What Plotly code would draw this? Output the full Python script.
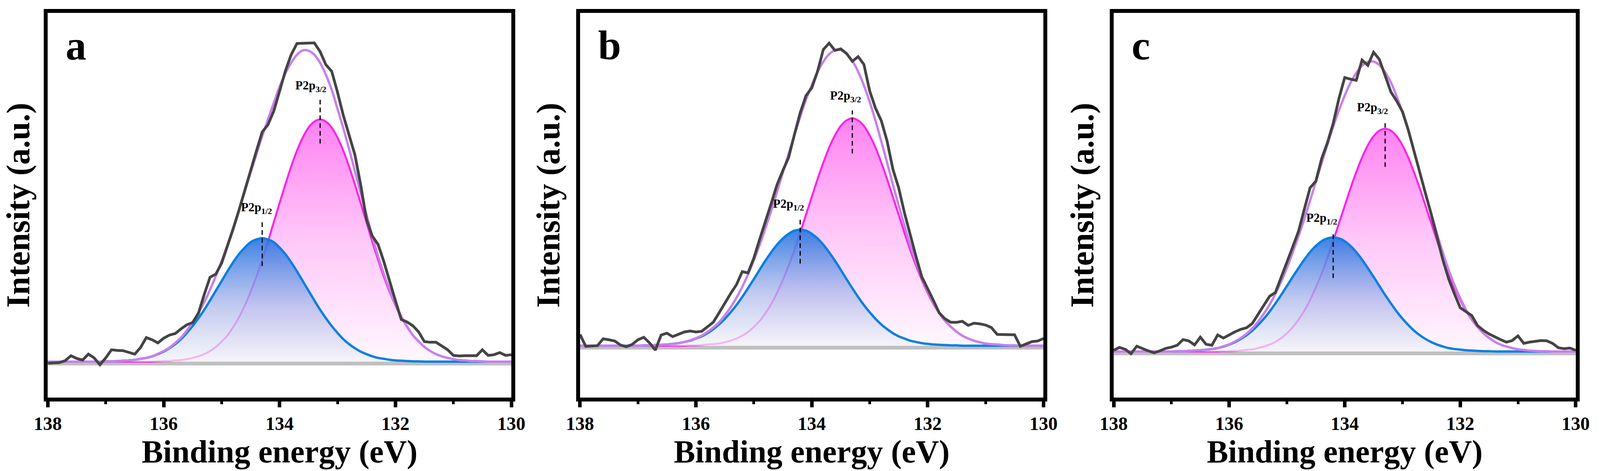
import plotly.graph_objects as go

# ---------------- data (binding energy grid, eV) ----------------
X = [130.0, 130.1, 130.2, 130.3, 130.4, 130.5, 130.6, 130.7, 130.8, 130.9,
     131.0, 131.1, 131.2, 131.3, 131.4, 131.5, 131.6, 131.7, 131.8, 131.9,
     132.0, 132.1, 132.2, 132.3, 132.4, 132.5, 132.6, 132.7, 132.8, 132.9,
     133.0, 133.1, 133.2, 133.3, 133.4, 133.5, 133.6, 133.7, 133.8, 133.9,
     134.0, 134.1, 134.2, 134.3, 134.4, 134.5, 134.6, 134.7, 134.8, 134.9,
     135.0, 135.1, 135.2, 135.3, 135.4, 135.5, 135.6, 135.7, 135.8, 135.9,
     136.0, 136.1, 136.2, 136.3, 136.4, 136.5, 136.6, 136.7, 136.8, 136.9,
     137.0, 137.1, 137.2, 137.3, 137.4, 137.5, 137.6, 137.7, 137.8, 137.9,
     138.0]

# ---- panel a ----
A_RAW = [2.2, 2.0, 2.9, 2.2, 2.0, 3.8, 1.9, 2.0, 1.9, 1.8,
         2.0, 3.8, 5.0, 6.2, 6.2, 6.4, 9.5, 11.5, 12.7, 13.5,
         19.5, 26.0, 32.0, 37.5, 40.2, 45.5, 56.6, 66.2, 72.5, 78.8,
         86.2, 92.9, 95.0, 99.2, 102.0, 102.0, 102.0, 101.8, 98.2, 93.0,
         86.5, 80.2, 75.8, 73.5, 67.4, 61.0, 54.5, 48.5, 42.5, 37.2,
         31.5, 28.0, 27.0, 21.5, 15.5, 12.5, 11.8, 10.5, 9.0, 8.5,
         7.5, 6.0, 7.0, 7.7, 4.5, 2.4, 3.0, 3.5, 3.6, 3.8,
         1.2, -1.0, 1.2, 2.4, 0.5, 1.0, 1.9, 0.3, -0.3, -0.4,
         -0.5]
A_P32 = [0, 0, 0, 0, 0, 0.1, 0.2, 0.2, 0.4, 0.5,
         0.8, 1.2, 1.7, 2.4, 3.4, 4.7, 6.4, 8.4, 11.1, 14.2,
         18.0, 22.3, 27.2, 32.6, 38.4, 44.6, 50.7, 56.7, 62.4, 67.5,
         71.7, 74.9, 76.8, 77.5, 76.8, 74.9, 71.7, 67.5, 62.4, 56.7,
         50.7, 44.6, 38.4, 32.6, 27.2, 22.3, 18.0, 14.2, 11.1, 8.4,
         6.4, 4.7, 3.4, 2.4, 1.7, 1.2, 0.8, 0.5, 0.4, 0.2,
         0.2, 0.1, 0, 0, 0, 0, 0, 0, 0, 0,
         0, 0, 0, 0, 0, 0, 0, 0, 0, 0,
         0]
A_P12 = [0, 0, 0, 0, 0, 0, 0, 0, 0, 0,
         0, 0, 0, 0, 0, 0, 0.1, 0.1, 0.2, 0.3,
         0.4, 0.6, 0.9, 1.2, 1.7, 2.4, 3.2, 4.3, 5.6, 7.2,
         9.2, 11.4, 13.9, 16.6, 19.6, 22.7, 25.8, 28.9, 31.8, 34.4,
         36.5, 38.2, 39.1, 39.5, 39.1, 38.2, 36.5, 34.4, 31.8, 28.9,
         25.8, 22.7, 19.6, 16.6, 13.9, 11.4, 9.2, 7.2, 5.6, 4.3,
         3.2, 2.4, 1.7, 1.2, 0.9, 0.6, 0.4, 0.3, 0.2, 0.1,
         0.1, 0, 0, 0, 0, 0, 0, 0, 0, 0,
         0]
A_ENV = [0, 0, 0, 0, 0, 0.1, 0.2, 0.2, 0.4, 0.5,
         0.8, 1.2, 1.7, 2.4, 3.4, 4.7, 6.5, 8.5, 11.3, 14.5,
         18.4, 22.9, 28.1, 33.8, 40.1, 47.0, 53.9, 61.0, 68.0, 74.7,
         80.9, 87.0, 91.8, 95.6, 98.2, 99.5, 99.6, 98.2, 95.6, 92.2,
         88.0, 82.8, 77.5, 72.1, 66.3, 60.5, 54.5, 48.6, 42.9, 37.3,
         32.2, 27.4, 23.0, 19.0, 15.6, 12.6, 10.0, 7.7, 6.0, 4.5,
         3.4, 2.5, 1.7, 1.2, 0.9, 0.6, 0.4, 0.3, 0.2, 0.1,
         0.1, 0, 0, 0, 0, 0, 0, 0, 0, 0,
         0]

# ---- panel b ----
B_RAW = [2.3, 1.5, 1.3, 0.5, -0.2, 3.5, 3.6, 3.6, 3.6, 5.8,
         6.6, 7.0, 7.2, 6.5, 7.8, 7.5, 7.5, 8.6, 10.5, 14.5,
         18.5, 22.0, 28.5, 35.5, 42.5, 50.5, 56.5, 65.5, 72.0, 76.0,
         81.5, 90.0, 92.5, 91.0, 93.5, 95.0, 94.5, 96.8, 94.8, 87.8,
         82.5, 80.0, 74.5, 67.5, 60.2, 56.0, 51.5, 45.5, 40.0, 34.0,
         28.0, 23.3, 23.7, 19.5, 16.7, 13.8, 10.5, 7.5, 6.0, 4.6,
         4.4, 4.7, 4.4, 3.6, 2.9, 4.0, 3.4, -1.4, 0.9, 2.7,
         1.9, 0.4, -0.3, 0.2, 1.5, 1.9, 2.2, 0.0, -0.2, -0.2,
         3.6]
B_P32 = [0, 0, 0, 0, 0, 0.1, 0.1, 0.2, 0.4, 0.5,
         0.7, 1.1, 1.6, 2.3, 3.2, 4.4, 6.0, 7.9, 10.4, 13.3,
         16.9, 21.0, 25.6, 30.6, 36.1, 41.9, 47.6, 53.3, 58.6, 63.4,
         67.3, 70.3, 72.1, 72.8, 72.1, 70.3, 67.3, 63.4, 58.6, 53.3,
         47.6, 41.9, 36.1, 30.6, 25.6, 21.0, 16.9, 13.3, 10.4, 7.9,
         6.0, 4.4, 3.2, 2.3, 1.6, 1.1, 0.7, 0.5, 0.4, 0.2,
         0.1, 0.1, 0, 0, 0, 0, 0, 0, 0, 0,
         0, 0, 0, 0, 0, 0, 0, 0, 0, 0,
         0]
B_P12 = [0, 0, 0, 0, 0, 0, 0, 0, 0, 0,
         0, 0, 0, 0, 0, 0.1, 0.1, 0.2, 0.3, 0.4,
         0.6, 0.8, 1.2, 1.6, 2.3, 3.0, 4.0, 5.3, 6.8, 8.6,
         10.7, 13.0, 15.6, 18.4, 21.3, 24.3, 27.2, 29.9, 32.3, 34.3,
         35.8, 36.8, 37.1, 36.8, 35.8, 34.3, 32.3, 29.9, 27.2, 24.3,
         21.3, 18.4, 15.6, 13.0, 10.7, 8.6, 6.8, 5.3, 4.0, 3.0,
         2.3, 1.6, 1.2, 0.8, 0.6, 0.4, 0.3, 0.2, 0.1, 0.1,
         0, 0, 0, 0, 0, 0, 0, 0, 0, 0,
         0]
B_ENV = [0, 0, 0, 0, 0, 0.1, 0.1, 0.2, 0.4, 0.5,
         0.7, 1.1, 1.6, 2.3, 3.2, 4.5, 6.1, 8.1, 10.7, 13.7,
         17.5, 21.8, 26.8, 32.2, 38.4, 44.9, 51.6, 58.6, 65.4, 72.0,
         78.0, 83.3, 87.7, 91.2, 93.4, 94.6, 94.5, 93.3, 90.9, 87.6,
         83.4, 78.7, 73.2, 67.4, 61.4, 55.3, 49.2, 43.2, 37.6, 32.2,
         27.3, 22.8, 18.8, 15.3, 12.3, 9.7, 7.5, 5.8, 4.4, 3.2,
         2.4, 1.7, 1.2, 0.8, 0.6, 0.4, 0.3, 0.2, 0.1, 0.1,
         0, 0, 0, 0, 0, 0, 0, 0, 0, 0,
         0]

# ---- panel c ----
C_RAW = [0.4, 1.1, 0.9, 1.2, 2.6, 3.4, 3.5, 3.3, 3.0, 2.6,
         5.0, 3.5, 3.0, 3.8, 4.7, 5.6, 6.8, 8.3, 11.5, 12.8,
         14.0, 18.5, 23.2, 29.3, 36.9, 43.8, 50.5, 57.5, 64.6, 71.0,
         76.8, 80.2, 83.1, 88.0, 93.5, 95.8, 91.6, 93.3, 86.8, 87.2,
         87.7, 81.0, 73.0, 66.8, 61.7, 54.5, 52.4, 45.5, 38.5, 33.5,
         28.5, 23.5, 18.9, 17.7, 14.7, 11.8, 9.0, 7.6, 7.1, 6.3,
         5.2, 4.3, 5.3, 2.0, 2.3, 4.6, 2.1, 3.4, 3.8, 2.0,
         1.4, 1.0, 0.2, -0.4, 0.2, 0.9, 1.7, -0.7, 0.7, 1.3,
         0.4]
C_P32 = [0, 0, 0, 0, 0, 0.1, 0.1, 0.2, 0.3, 0.5,
         0.7, 1.1, 1.6, 2.2, 3.1, 4.3, 5.8, 7.8, 10.2, 13.0,
         16.5, 20.5, 25.0, 30.0, 35.4, 41.0, 46.6, 52.2, 57.4, 62.1,
         66.0, 68.9, 70.7, 71.3, 70.7, 68.9, 66.0, 62.1, 57.4, 52.2,
         46.6, 41.0, 35.4, 30.0, 25.0, 20.5, 16.5, 13.0, 10.2, 7.8,
         5.8, 4.3, 3.1, 2.2, 1.6, 1.1, 0.7, 0.5, 0.3, 0.2,
         0.1, 0.1, 0, 0, 0, 0, 0, 0, 0, 0,
         0, 0, 0, 0, 0, 0, 0, 0, 0, 0,
         0]
C_P12 = [0, 0, 0, 0, 0, 0, 0, 0, 0, 0,
         0, 0, 0, 0, 0, 0.1, 0.1, 0.2, 0.3, 0.4,
         0.6, 0.8, 1.1, 1.6, 2.2, 3.0, 4.0, 5.2, 6.7, 8.5,
         10.5, 12.8, 15.4, 18.1, 21.0, 23.9, 26.7, 29.4, 31.8, 33.8,
         35.3, 36.2, 36.5, 36.2, 35.3, 33.8, 31.8, 29.4, 26.7, 23.9,
         21.0, 18.1, 15.4, 12.8, 10.5, 8.5, 6.7, 5.2, 4.0, 3.0,
         2.2, 1.6, 1.1, 0.8, 0.6, 0.4, 0.3, 0.2, 0.1, 0.1,
         0, 0, 0, 0, 0, 0, 0, 0, 0, 0,
         0]
C_ENV = [0, 0, 0, 0, 0, 0.1, 0.1, 0.2, 0.3, 0.5,
         0.7, 1.1, 1.6, 2.2, 3.1, 4.4, 5.9, 8.0, 10.5, 13.4,
         17.1, 21.3, 26.1, 31.6, 37.6, 44.0, 50.6, 57.4, 64.1, 70.6,
         76.5, 81.7, 86.1, 89.4, 91.7, 92.8, 92.7, 91.5, 89.2, 86.0,
         81.9, 77.2, 71.9, 66.2, 60.3, 54.3, 48.3, 42.4, 36.9, 31.7,
         26.8, 22.4, 18.5, 15.0, 12.1, 9.6, 7.4, 5.7, 4.3, 3.2,
         2.3, 1.7, 1.1, 0.8, 0.6, 0.4, 0.3, 0.2, 0.1, 0.1,
         0, 0, 0, 0, 0, 0, 0, 0, 0, 0,
         0]

# flat background line (drawn just under the fitted baseline)
BACKGROUND_X = [130.0, 138.0]
BACKGROUND_Y = [-0.6, -0.6]

PANEL_LETTERS = ["a", "b", "c"]
X_TICKS = [130, 132, 134, 136, 138]
X_TITLE = "Binding energy (eV)"
Y_TITLE = "Intensity (a.u.)"
PEAK_NAMES = ["P2p<sub>3/2</sub>", "P2p<sub>1/2</sub>"]
# peak marker energies (eV) and intensity extents of the dashed markers
PEAK_E = [[133.3, 134.3], [133.3, 134.2], [133.3, 134.2]]
MARK_TOP = [[84.1, 45.4], [75.3, 40.5], [73.4, 37.8]]
MARK_BOT = [[69.8, 30.6], [61.5, 26.3], [59.1, 23.5]]
LABEL_E = [[133.46, 134.40], [133.42, 134.40], [133.52, 134.40]]
LABEL_I = [[85.4, 46.4], [77.0, 42.4], [75.1, 39.7]]
Y_RANGES = [[-11.5, 111.6], [-16.6, 106.5], [-14.75, 108.4]]

PANELS = [
    (A_RAW, A_P32, A_P12, A_ENV),
    (B_RAW, B_P32, B_P12, B_ENV),
    (C_RAW, C_P32, C_P12, C_ENV),
]

# ---------------- styling / layout ----------------
FONT = "Liberation Serif, Times New Roman, serif"
W, H = 4096, 1206            # the browser viewport is 4096 px wide
SX = W / 4218.0              # horizontal scale from the 4218-px reference
ML, MT, MB = round(126 * SX), 33, 188
MR = W - round(4154 * SX)
PW = W - ML - MR
PLOT_PX = [(126 * SX, 1348 * SX), (1529 * SX, 2751 * SX), (2936 * SX, 4154 * SX)]
DOMAINS = [[max(0.0, (a - ML) / PW), min(1.0, (b - ML) / PW)] for a, b in PLOT_PX]

PINK_LINE = "#FF22E6"
BLUE_LINE = "#0A80E2"
ENV_LINE = "#C880EC"
RAW_LINE = "#444444"
PINK_SCALE = [[0.0, "rgba(255,247,255,1)"], [0.5, "rgba(255,200,248,1)"],
              [1.0, "rgba(255,130,242,1)"]]
BLUE_SCALE = [[0.0, "rgba(242,243,247,0.72)"], [0.45, "rgba(175,185,236,0.76)"],
              [1.0, "rgba(40,115,224,0.9)"]]

fig = go.Figure()

for p, (raw, p32, p12, env) in enumerate(PANELS):
    xa = "x" if p == 0 else f"x{p+1}"
    ya = "y" if p == 0 else f"y{p+1}"
    fig.add_trace(go.Scatter(x=BACKGROUND_X, y=BACKGROUND_Y, mode="lines",
                             line=dict(color="rgb(192,192,192)", width=10),
                             xaxis=xa, yaxis=ya, hoverinfo="skip"))
    fig.add_trace(go.Scatter(x=X, y=p32, mode="lines", fill="tozeroy",
                             line=dict(color=PINK_LINE, width=5, shape="spline"),
                             fillgradient=dict(type="vertical", colorscale=PINK_SCALE),
                             xaxis=xa, yaxis=ya, name="P2p3/2"))
    fig.add_trace(go.Scatter(x=X, y=p12, mode="lines", fill="tozeroy",
                             line=dict(color=BLUE_LINE, width=6, shape="spline"),
                             fillgradient=dict(type="vertical", colorscale=BLUE_SCALE),
                             xaxis=xa, yaxis=ya, name="P2p1/2"))
    fig.add_trace(go.Scatter(x=X, y=env, mode="lines",
                             line=dict(color=ENV_LINE, width=6, shape="spline"),
                             xaxis=xa, yaxis=ya, name="Envelope"))
    fig.add_trace(go.Scatter(x=X, y=raw, mode="lines",
                             line=dict(color=RAW_LINE, width=7),
                             xaxis=xa, yaxis=ya, name="Raw"))

    for k in range(2):
        fig.add_shape(type="line", xref=xa, yref=ya,
                      x0=PEAK_E[p][k], x1=PEAK_E[p][k],
                      y0=MARK_BOT[p][k], y1=MARK_TOP[p][k],
                      line=dict(color="black", width=3, dash="12px,8px"))
        fig.add_annotation(xref=xa, yref=ya, x=LABEL_E[p][k], y=LABEL_I[p][k],
                           text=PEAK_NAMES[k], showarrow=False,
                           xanchor="center", yanchor="bottom",
                           font=dict(family=FONT, size=31, color="black", weight="bold"))
    fig.add_annotation(xref=f"{xa} domain", yref=f"{ya} domain", x=0.037, y=0.915,
                       text=PANEL_LETTERS[p], showarrow=False,
                       xanchor="left", yanchor="middle",
                       font=dict(family=FONT, size=106, color="black", weight="bold"))

    axis_common = dict(showline=True, linewidth=10, linecolor="black", mirror=True,
                       showgrid=False, zeroline=False, automargin=False)
    xkey = "xaxis" if p == 0 else f"xaxis{p+1}"
    ykey = "yaxis" if p == 0 else f"yaxis{p+1}"
    fig.update_layout({
        xkey: dict(domain=DOMAINS[p], range=[138, 130], anchor=ya,
                   tickmode="array", tickvals=X_TICKS,
                   ticktext=[str(v) for v in X_TICKS],
                   ticks="outside", ticklen=15, tickwidth=9, tickcolor="black",
                   minor=dict(ticks="outside", dtick=1, tick0=130, ticklen=7,
                              tickwidth=7, tickcolor="black"),
                   tickfont=dict(family=FONT, size=48, color="black", weight="bold"),
                   title=dict(text=X_TITLE, standoff=0,
                              font=dict(family=FONT, size=82, color="black", weight="bold")),
                   **axis_common),
        ykey: dict(domain=[0, 1], range=Y_RANGES[p], anchor=xa,
                   showticklabels=False, ticks="",
                   title=dict(text=Y_TITLE, standoff=18,
                              font=dict(family=FONT, size=84, color="black", weight="bold")),
                   **axis_common),
    })

fig.update_layout(width=W, height=H, showlegend=False,
                  margin=dict(l=ML, r=MR, t=MT, b=MB),
                  paper_bgcolor="white", plot_bgcolor="white",
                  hovermode=False)

# remove the browser's default 8-px page margin so the figure starts at the corner
fig.write_html("out.html", config={"displayModeBar": False},
               post_script="document.body.style.margin = '0';")
